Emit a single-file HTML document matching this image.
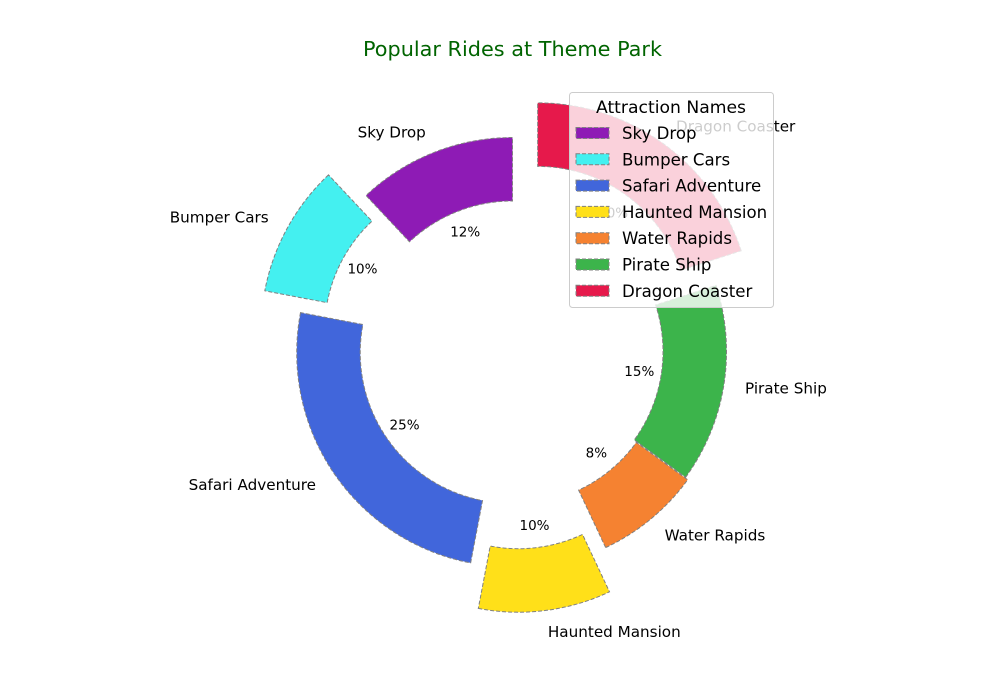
<!DOCTYPE html>
<html><head><meta charset="utf-8"><style>
body{margin:0;background:#fff;}
svg{display:block;font-family:"DejaVu Sans","Liberation Sans",sans-serif;}
</style></head><body>
<svg id="chart" width="1000" height="700">
<text x="512.5" y="56" text-anchor="middle" font-size="20.8" fill="#006400">Popular Rides at Theme Park</text>
<g id="pie"></g>
<g id="legend"></g>
</svg>
<script>
const categories = ["Sky Drop","Bumper Cars","Safari Adventure","Haunted Mansion","Water Rapids","Pirate Ship","Dragon Coaster"];
const values = [12,10,25,10,8,15,20];
const explode = [0,0.2,0.01,0.22,0.015,0,0.2];
const colors = ["#8E1BB5","#44F0F0","#4166DB","#FFE019","#F58231","#3CB44B","#E6194B"];
const NS="http://www.w3.org/2000/svg";
const cx=512.5, cy=351.5, R=214, r=150.5;
const pie=document.getElementById('pie');
const total=values.reduce((a,b)=>a+b,0);
function pt(a,rad,ox,oy){const t=a*Math.PI/180;return [cx+ox+rad*Math.cos(t), cy+oy-rad*Math.sin(t)];}
let ang=90;
const labels=[];
values.forEach((v,i)=>{
  const sweep=v/total*360, a0=ang, a1=ang+sweep, mid=(a0+a1)/2;
  const t=mid*Math.PI/180;
  const ox=explode[i]*R*Math.cos(t), oy=-explode[i]*R*Math.sin(t);
  const p0=pt(a0,R,ox,oy), p1=pt(a1,R,ox,oy), q1=pt(a1,r,ox,oy), q0=pt(a0,r,ox,oy);
  const large=sweep>180?1:0;
  const d=`M${p0[0]},${p0[1]} A${R},${R} 0 ${large} 0 ${p1[0]},${p1[1]} L${q1[0]},${q1[1]} A${r},${r} 0 ${large} 1 ${q0[0]},${q0[1]} Z`;
  const path=document.createElementNS(NS,'path');
  path.setAttribute('d',d);path.setAttribute('fill',colors[i]);
  path.setAttribute('stroke','#808080');path.setAttribute('stroke-width','1');path.setAttribute('stroke-dasharray','4,2');
  
  
  pie.appendChild(path);
  const lp=pt(mid,1.1*R,ox,oy);
  const lt=document.createElementNS(NS,'text');
  lt.setAttribute('x',lp[0]);lt.setAttribute('y',lp[1]+5);
  lt.setAttribute('text-anchor',Math.cos(t)>=0?'start':'end');
  lt.setAttribute('font-size','15.2');lt.setAttribute('fill','#000');
  lt.textContent=categories[i];
  
  
  labels.push(lt);
  const pp=pt(mid,0.6*R,ox,oy);
  const pt2=document.createElementNS(NS,'text');
  pt2.setAttribute('x',pp[0]);pt2.setAttribute('y',pp[1]+4.5);
  pt2.setAttribute('text-anchor','middle');pt2.setAttribute('font-size','13.5');
  pt2.textContent=Math.round(v/total*100)+'%';
  
  
  labels.push(pt2);
  ang=a1;
});
labels.forEach(l=>pie.appendChild(l));
const lg=document.getElementById('legend');
const box=document.createElementNS(NS,'rect');
box.setAttribute('x',569.5);box.setAttribute('y',92.5);box.setAttribute('width',204);box.setAttribute('height',215);
box.setAttribute('rx',3);box.setAttribute('fill','#fff');box.setAttribute('fill-opacity','0.8');box.setAttribute('stroke','#ccc');


lg.appendChild(box);
const ttl=document.createElementNS(NS,'text');
ttl.setAttribute('x',671);ttl.setAttribute('y',113);ttl.setAttribute('text-anchor','middle');ttl.setAttribute('font-size','17.2');
ttl.textContent='Attraction Names';


lg.appendChild(ttl);
categories.forEach((c,i)=>{
  const y=133+i*26.3;
  const g=document.createElementNS(NS,'g');
  
  
  const sw=document.createElementNS(NS,'rect');
  sw.setAttribute('x',576);sw.setAttribute('y',y-5.5);sw.setAttribute('width',33);sw.setAttribute('height',11);
  sw.setAttribute('fill',colors[i]);sw.setAttribute('stroke','#808080');sw.setAttribute('stroke-dasharray','4,2');
  
  
  const tx=document.createElementNS(NS,'text');
  tx.setAttribute('x',622);tx.setAttribute('y',y+6);tx.setAttribute('font-size','16.6');
  tx.textContent=c;
  
  
  g.appendChild(sw);g.appendChild(tx);lg.appendChild(g);
});
</script>
</body></html>
